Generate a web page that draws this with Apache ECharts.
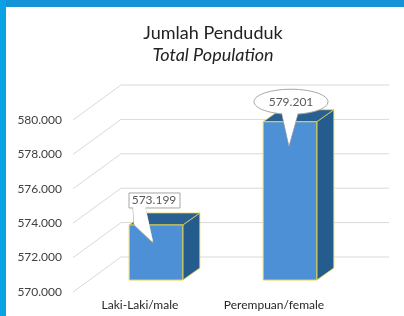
<!DOCTYPE html>
<html>
<head>
<meta charset="utf-8">
<script src="https://cdn.jsdelivr.net/npm/echarts@6/dist/echarts.min.js"></script>
<style>
  html, body { margin: 0; padding: 0; background: #fff; }
  #chart { width: 404px; height: 316px; }
</style>
</head>
<body>
<div id="chart"></div>
<script>
// data
const categories = ['Laki-Laki/male', 'Perempuan/female'];
const population = [573199, 579201];
const yTicks = [570000, 572000, 574000, 576000, 578000, 580000];
const yMin = 570000;
const yMax = 580000;

// fake 3d look
const wallDepth = [48, -35];   // front plane -> back wall
const barShift = [16, -12];    // front plane -> bar front face
const cubeDepth = [17, -12];   // bar thickness
const labelShapes = ['rect', 'ellipse'];

const fontFamily = 'Lato, "Open Sans", sans-serif';

function fmt(v) {
  return String(v).replace(/\B(?=(\d{3})+(?!\d))/g, '.');
}

// back wall gridlines + diagonal side wall lines
function renderGrid(params, api) {
  const cs = params.coordSys;
  const y = api.coord([0, api.value(1)])[1];
  const x0 = cs.x;
  const xb = x0 + wallDepth[0];
  const yb = y + wallDepth[1];
  const xr = cs.x + cs.width + wallDepth[0];
  return {
    type: 'polyline',
    shape: { points: [[x0, y], [xb, yb], [xr, yb]] },
    style: { fill: null, stroke: '#d9d9d9', lineWidth: 1 },
    silent: true
  };
}

function renderCube(params, api) {
  const idx = api.value(0);
  const val = api.value(1);
  const top = api.coord([idx, val]);
  const base = api.coord([idx, yMin]);
  const bw = api.size([1, 0])[0] * 0.4;
  const cx = top[0] + barShift[0];
  const x0 = cx - bw / 2;
  const x1 = cx + bw / 2;
  const yTop = top[1] + barShift[1];
  const yBase = base[1] + barShift[1];
  const dx = cubeDepth[0];
  const dy = cubeDepth[1];
  const edge = '#e6d24a';
  const line = '#a6a6a6';

  const children = [
    {
      type: 'polygon',
      shape: { points: [[x1, yTop], [x1 + dx, yTop + dy], [x1 + dx, yBase + dy], [x1, yBase]] },
      style: { fill: '#255c8e', stroke: edge, lineWidth: 0.8 }
    },
    {
      type: 'polygon',
      shape: { points: [[x0, yTop], [x0 + dx, yTop + dy], [x1 + dx, yTop + dy], [x1, yTop]] },
      style: { fill: '#2a5f92', stroke: edge, lineWidth: 0.8 }
    },
    {
      type: 'rect',
      shape: { x: x0, y: yTop, width: bw, height: yBase - yTop },
      style: { fill: '#4d90d6', stroke: edge, lineWidth: 1 }
    }
  ];

  // callout label
  const shape = labelShapes[params.dataIndex];
  let lx, ly, box, wedge;
  if (shape === 'rect') {
    lx = cx - 2;
    ly = yTop - 25;
    const bb = ly + 7;
    box = {
      type: 'rect',
      shape: { x: lx - 25, y: ly - 7, width: 51, height: 15 },
      style: { fill: '#fff', stroke: line, lineWidth: 1 }
    };
    wedge = [[lx - 21, bb], [lx - 9, bb], [lx - 1, yTop + 18], [lx - 20, yTop]];
  } else {
    lx = cx + 1;
    ly = yTop - 20;
    box = {
      type: 'ellipse',
      shape: { cx: lx, cy: ly, rx: 37, ry: 12.5 },
      style: { fill: '#fff', stroke: line, lineWidth: 1 }
    };
    wedge = [[lx - 10, ly + 8], [lx - 2, yTop + 24], [lx + 8, ly + 8]];
  }
  children.push({
    type: 'polygon',
    shape: { points: wedge },
    style: { fill: '#fff', stroke: line, lineWidth: 1 }
  });
  children.push(box);
  // hide the wedge stroke inside the box
  children.push({
    type: 'polygon',
    shape: { points: wedge.map(p => [p[0], p[1] - 1.5]) },
    style: { fill: '#fff' }
  });
  children.push({
    type: 'text',
    style: {
      text: fmt(val), x: lx, y: ly + 0.5, align: 'center', verticalAlign: 'middle',
      fill: '#595959', font: '12px ' + fontFamily
    }
  });

  return { type: 'group', children: children };
}

const chart = echarts.init(document.getElementById('chart'));

const option = {
  backgroundColor: '#ffffff',
  animation: false,
  title: [
    {
      text: 'Jumlah Penduduk',
      left: 208, top: 19, textAlign: 'center',
      textStyle: { fontFamily: fontFamily, fontSize: 18, fontWeight: 'normal', color: '#222' }
    },
    {
      text: 'Total Population',
      left: 208, top: 41, textAlign: 'center',
      textStyle: { fontFamily: fontFamily, fontSize: 18, fontWeight: 'normal', fontStyle: 'italic', color: '#222' }
    }
  ],
  graphic: [
    { type: 'rect', left: 0, top: 0, shape: { width: 404, height: 7 }, style: { fill: '#1593d8' }, z: 10 },
    { type: 'rect', left: 0, top: 0, shape: { width: 6, height: 316 }, style: { fill: '#0aa2e2' }, z: 10 }
  ],
  grid: { left: 73, right: 63, top: 120, bottom: 24 },
  xAxis: {
    type: 'category',
    data: categories,
    axisLine: { show: false },
    axisTick: { show: false },
    axisLabel: { margin: 7, color: '#262626', fontFamily: fontFamily, fontSize: 12 }
  },
  yAxis: {
    type: 'value',
    min: yMin,
    max: yMax,
    interval: 2000,
    axisLine: { show: false },
    axisTick: { show: false },
    splitLine: { show: false },
    axisLabel: { margin: 11, color: '#404040', fontFamily: fontFamily, fontSize: 12, formatter: fmt }
  },
  series: [
    {
      type: 'custom',
      renderItem: renderGrid,
      data: yTicks.map(v => [0, v]),
      silent: true,
      z: 1
    },
    {
      type: 'custom',
      renderItem: renderCube,
      data: population.map((v, i) => [i, v]),
      z: 2
    }
  ]
};

chart.setOption(option);
</script>
</body>
</html>
